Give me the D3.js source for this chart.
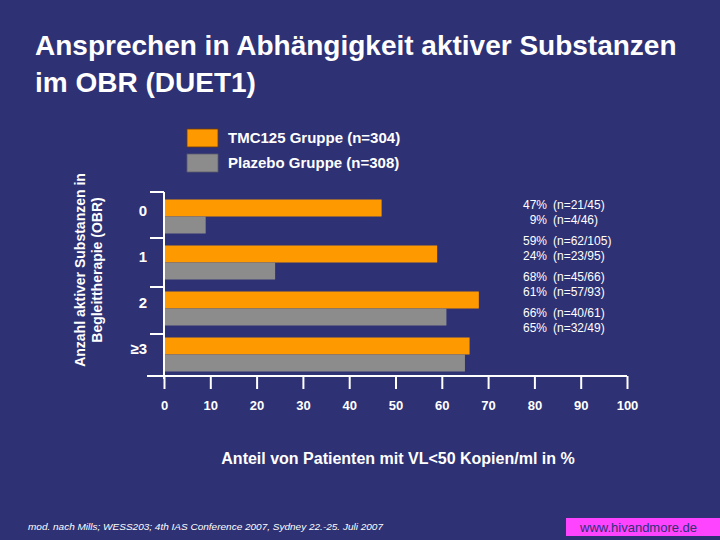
<!DOCTYPE html>
<html><head><meta charset="utf-8">
<script src="https://cdn.jsdelivr.net/npm/d3@7"></script>
<style>body{margin:0;background:#2e3174;}svg{display:block;font-family:"Liberation Sans",Arial,sans-serif;}</style>
</head><body>
<svg id="c" width="720" height="540"></svg>
<script>
const categories = ["0", "1", "2", "≥3"];
const seriesNames = ["TMC125 Gruppe (n=304)", "Plazebo Gruppe (n=308)"];
const tmc = [47, 59, 68, 66];
const plazebo = [9, 24, 61, 65];
const tmcN = ["(n=21/45)", "(n=62/105)", "(n=45/66)", "(n=40/61)"];
const plazeboN = ["(n=4/46)", "(n=23/95)", "(n=57/93)", "(n=32/49)"];
const xTicks = [0, 10, 20, 30, 40, 50, 60, 70, 80, 90, 100];
const colors = ["#ff9900", "#8c8c8c"];

const svg = d3.select("#c");
svg.append("rect").attr("width", 720).attr("height", 540).attr("fill", "#2e3174");

// Title
const title = svg.append("text").attr("fill", "#fff").attr("font-size", 28).attr("font-weight", "bold");
title.append("tspan").attr("x", 35).attr("y", 55).text("Ansprechen in Abhängigkeit aktiver Substanzen");
title.append("tspan").attr("x", 35).attr("y", 92).text("im OBR (DUET1)");

// Legend
seriesNames.forEach((s, i) => {
  const y = 129 + i * 25;
  svg.append("rect").attr("x", 187).attr("y", y).attr("width", 31).attr("height", 18)
    .attr("fill", colors[i]).attr("stroke", i === 0 ? "#6a3a10" : "#5a5a6a").attr("stroke-width", 0.8);
  svg.append("text").attr("x", 228).attr("y", y + 14).attr("fill", "#fff")
    .attr("font-size", 15).attr("font-weight", "bold").text(s);
});

// Scales
const x = d3.scaleLinear().domain([0, 100]).range([164, 627]);
const y = d3.scaleBand().domain(categories).range([192, 376]).paddingInner(0).paddingOuter(0);
const inner = d3.scaleBand().domain([0, 1]).range([7.5, 41.5]).padding(0);

const data = categories.map((c, i) => ({c, vals: [tmc[i], plazebo[i]]}));

// Bars
data.forEach(d => {
  d.vals.forEach((v, j) => {
    svg.append("rect")
      .attr("x", x(0)).attr("y", y(d.c) + inner(j))
      .attr("width", x(v) - x(0)).attr("height", inner.bandwidth())
      .attr("fill", colors[j]);
  });
});

// Y axis
const yAxisG = svg.append("g");
yAxisG.append("line").attr("x1", x(0)).attr("x2", x(0)).attr("y1", 192).attr("y2", 379)
  .attr("stroke", "#fff").attr("stroke-width", 2);
[192, 238, 287, 334, 376].forEach(t => {
  yAxisG.append("line").attr("x1", 150).attr("x2", x(0)).attr("y1", t).attr("y2", t)
    .attr("stroke", "#fff").attr("stroke-width", 2);
});
categories.forEach(c => {
  svg.append("text").attr("x", 147).attr("y", y(c) + y.bandwidth() / 2 + 1)
    .attr("text-anchor", "end").attr("fill", "#fff").attr("font-size", 15).attr("font-weight", "bold").text(c);
});

// X axis
const xAxis = d3.axisBottom(x).tickValues(xTicks).tickSize(13).tickFormat(d3.format("d"));
const xg = svg.append("g").attr("transform", "translate(0,376)").call(xAxis);
xg.select(".domain").remove();
xg.selectAll(".tick line").attr("stroke", "#fff").attr("stroke-width", 2);
xg.selectAll(".tick text").attr("fill", "#fff").attr("font-size", 13).attr("font-weight", "bold")
  .attr("font-family", "'Liberation Sans',Arial,sans-serif").attr("dy", "0.9em").attr("y", 22);
svg.append("line").attr("x1", 147).attr("x2", 627).attr("y1", 376).attr("y2", 376)
  .attr("stroke", "#fff").attr("stroke-width", 2);

// Value labels
data.forEach((d, i) => {
  const lines = [[tmc[i] + "%", tmcN[i]], [plazebo[i] + "%", plazeboN[i]]];
  const cy = [205, 241, 277, 313][i];
  lines.forEach((l, j) => {
    const yy = cy + j * 15 + 4;
    svg.append("text").attr("x", 547).attr("y", yy).attr("text-anchor", "end")
      .attr("fill", "#fff").attr("font-size", 12).text(l[0]);
    svg.append("text").attr("x", 553).attr("y", yy)
      .attr("fill", "#fff").attr("font-size", 12).text(l[1]);
  });
});

// Y title
const yt = svg.append("text").attr("transform", "translate(88,270) rotate(-90)")
  .attr("text-anchor", "middle").attr("fill", "#fff").attr("font-size", 14).attr("font-weight", "bold");
yt.append("tspan").attr("x", 0).attr("y", -3).text("Anzahl aktiver Substanzen in");
yt.append("tspan").attr("x", 0).attr("y", 14).text("Begleittherapie (OBR)");

// X title
svg.append("text").attr("x", 398).attr("y", 464).attr("text-anchor", "middle")
  .attr("fill", "#fff").attr("font-size", 16).attr("font-weight", "bold")
  .text("Anteil von Patienten mit VL<50 Kopien/ml in %");

// Footer
svg.append("text").attr("x", 28).attr("y", 530).attr("fill", "#fff").attr("font-size", 9.5)
  .attr("font-style", "italic").attr("textLength", 355).attr("lengthAdjust", "spacingAndGlyphs")
  .text("mod. nach Mills; WESS203; 4th IAS Conference 2007, Sydney 22.-25. Juli 2007");
svg.append("rect").attr("x", 566).attr("y", 518).attr("width", 154).attr("height", 18).attr("fill", "#ff44ff");
svg.append("text").attr("x", 580).attr("y", 532).attr("fill", "#2e3174").attr("font-size", 13)
  .text("www.hivandmore.de");
</script>
</body></html>
